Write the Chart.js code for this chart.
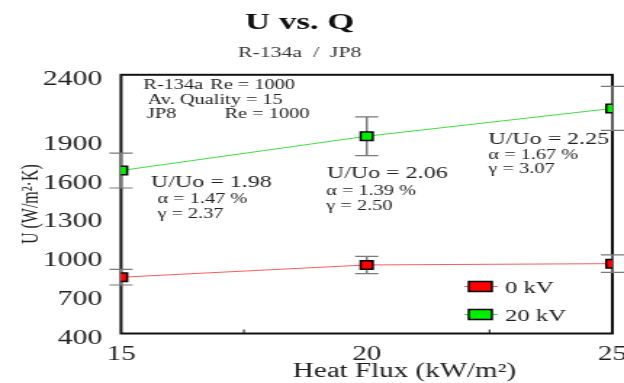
<!DOCTYPE html>
<html>
<head>
<meta charset="utf-8">
<script src="https://cdn.jsdelivr.net/npm/chart.js@4.4.1/dist/chart.umd.min.js"></script>
<style>
  html, body { margin: 0; padding: 0; background: #fff; }
</style>
</head>
<body>
<!-- холст уже, чем окно: растягиваем по ширине как в исходной картинке -->
<canvas id="chart" width="430" height="383" style="width:624px;height:383px;display:block"></canvas>
<script>
// Данные графика
const heatFlux = [15, 20, 25];
const u0kV = [835, 930, 940];
const u0kVErr = [60, 67, 68];
const u20kV = [1660, 1925, 2140];
const u20kVErr = [135, 150, 170];
const seriesLabels = ['0 kV', '20 kV'];
const yTickValues = [400, 700, 1000, 1300, 1600, 1900, 2400];
const xMinorTicks = [17.5, 22.5];

const FONT = "'Liberation Serif', 'Times New Roman', serif";
const TEXT = '#222';

// Подписи внутри графика (x, y — в пикселях холста)
const notes = [
    { text: 'R-134a', x: 98.8, y: 85, size: 14 },
    { text: 'Re = 1000', x: 144.8, y: 85, size: 14 },
    { text: 'Av. Quality = 15', x: 101.8, y: 100, size: 14 },
    { text: 'JP8', x: 101.2, y: 114, size: 14 },
    { text: 'Re = 1000', x: 154.7, y: 114, size: 14 },
    { text: 'U/Uo = 1.98', x: 104.1, y: 183, size: 16.5 },
    { text: 'α = 1.47 %', x: 108.5, y: 199, size: 14 },
    { text: 'γ = 2.37', x: 108.5, y: 214, size: 14 },
    { text: 'U/Uo = 2.06', x: 225.3, y: 174, size: 16.5 },
    { text: 'α = 1.39 %', x: 224.8, y: 191.5, size: 14 },
    { text: 'γ = 2.50', x: 224.8, y: 206.5, size: 14 },
    { text: 'U/Uo = 2.25', x: 336.6, y: 140, size: 16.5 },
    { text: 'α = 1.67 %', x: 336.6, y: 155, size: 14 },
    { text: 'γ = 3.07', x: 336.6, y: 169, size: 14 },
];

function toPoints(xs, ys) {
    return xs.map((x, i) => ({ x: x, y: ys[i] }));
}

// Рамка, планки погрешностей, легенда и подписи
const chartDecor = {
    id: 'chartDecor',
    afterLayout(chart) {
        // заголовки чуть левее центра холста
        chart.boxes.forEach(box => {
            if (box.position === 'top' && box.options && box.options.text !== undefined) {
                box.left -= 6;
                box.right -= 6;
            }
        });
    },
    beforeDatasetsDraw(chart) {
        const { ctx, chartArea: a, scales: { x, y } } = chart;
        ctx.save();
        ctx.strokeStyle = '#111';
        ctx.lineWidth = 2;
        ctx.strokeRect(a.left, a.top, a.right - a.left, a.bottom - a.top);

        ctx.lineWidth = 1;
        xMinorTicks.forEach(v => {
            const px = x.getPixelForValue(v);
            ctx.beginPath();
            ctx.moveTo(px, a.bottom);
            ctx.lineTo(px, a.bottom - 4);
            ctx.stroke();
        });

        chart.data.datasets.forEach(ds => {
            ctx.strokeStyle = '#7a7a7a';
            ds.data.forEach((pt, i) => {
                const px = x.getPixelForValue(pt.x);
                const top = y.getPixelForValue(pt.y + ds.errors[i]);
                const bot = y.getPixelForValue(pt.y - ds.errors[i]);
                ctx.lineWidth = 1.5;
                ctx.beginPath();
                ctx.moveTo(px, top);
                ctx.lineTo(px, bot);
                ctx.stroke();
                ctx.lineWidth = 1.2;
                ctx.beginPath();
                ctx.moveTo(px - 8, top);
                ctx.lineTo(px + 8, top);
                ctx.moveTo(px - 8, bot);
                ctx.lineTo(px + 8, bot);
                ctx.stroke();
            });
        });
        ctx.restore();
    },
    afterDraw(chart) {
        const { ctx, chartArea: a } = chart;
        ctx.save();
        ctx.fillStyle = TEXT;
        ctx.textBaseline = 'middle';
        ctx.textAlign = 'left';
        notes.forEach(n => {
            ctx.font = n.size + 'px ' + FONT;
            ctx.fillText(n.text, n.x, n.y);
        });

        // легенда
        chart.data.datasets.forEach((ds, i) => {
            const yc = a.bottom - 47 + i * 28;
            ctx.strokeStyle = ds.borderColor;
            ctx.lineWidth = 1;
            ctx.beginPath();
            ctx.moveTo(a.right - 102, yc);
            ctx.lineTo(a.right - 79, yc);
            ctx.stroke();
            ctx.fillStyle = ds.pointBackgroundColor;
            ctx.fillRect(a.right - 99, yc - 5, 16, 10);
            ctx.strokeStyle = '#000';
            ctx.lineWidth = 1.5;
            ctx.strokeRect(a.right - 99, yc - 5, 16, 10);
            ctx.fillStyle = TEXT;
            ctx.font = '17px ' + FONT;
            ctx.fillText(ds.label, a.right - 74, yc + 2);
        });

        // подпись оси X
        ctx.textAlign = 'center';
        ctx.font = '20px ' + FONT;
        ctx.fillText('Heat Flux (kW/m²)', (a.left + a.right) / 2 + 26, 372);
        ctx.restore();
    }
};

new Chart(document.getElementById('chart'), {
    type: 'line',
    data: {
        datasets: [
            {
                label: seriesLabels[0],
                data: toPoints(heatFlux, u0kV),
                errors: u0kVErr,
                borderColor: '#ff5a5a',
                borderWidth: 1,
                pointStyle: 'rect',
                pointRadius: 6,
                pointBackgroundColor: '#ff0000',
                pointBorderColor: '#000',
                pointBorderWidth: 1.5,
                tension: 0
            },
            {
                label: seriesLabels[1],
                data: toPoints(heatFlux, u20kV),
                errors: u20kVErr,
                borderColor: '#3ee03e',
                borderWidth: 1,
                pointStyle: 'rect',
                pointRadius: 6,
                pointBackgroundColor: '#00ee00',
                pointBorderColor: '#000',
                pointBorderWidth: 1.5,
                tension: 0
            }
        ]
    },
    options: {
        responsive: false,
        devicePixelRatio: 1,
        animation: false,
        layout: { padding: { left: 3, right: 8, top: 0, bottom: 15 } },
        plugins: {
            legend: { display: false },
            tooltip: { enabled: false },
            title: {
                display: true,
                text: 'U vs. Q',
                color: '#111',
                font: { family: FONT, size: 24, weight: 'bold' },
                padding: { top: 8, bottom: 2 }
            },
            subtitle: {
                display: true,
                text: 'R-134a  /  JP8',
                color: '#333',
                font: { family: FONT, size: 15 },
                padding: { top: 5, bottom: 13 }
            }
        },
        scales: {
            x: {
                type: 'linear',
                min: 15,
                max: 25,
                grid: { display: false, drawTicks: false },
                border: { display: false },
                ticks: {
                    stepSize: 5,
                    color: TEXT,
                    padding: 9,
                    font: { family: FONT, size: 20 },
                    callback: v => String(v)
                },
                afterFit: axis => {
                    axis.height = 34.5;
                    axis.paddingLeft = 0;
                    axis.paddingRight = 0;
                }
            },
            y: {
                min: 400,
                max: 2400,
                afterBuildTicks: axis => {
                    axis.ticks = yTickValues.map(v => ({ value: v }));
                },
                afterFit: axis => {
                    axis.width = 80.4;
                },
                grid: { display: false, drawTicks: false },
                border: { display: false },
                ticks: {
                    color: TEXT,
                    padding: 13,
                    labelOffset: 5,
                    font: { family: FONT, size: 20.5 },
                    callback: v => String(v)
                },
                title: {
                    display: true,
                    text: 'U (W/m²·K)',
                    color: TEXT,
                    font: { family: FONT, size: 16 },
                    padding: { top: 9, bottom: 4 }
                }
            }
        }
    },
    plugins: [chartDecor]
});
</script>
</body>
</html>
